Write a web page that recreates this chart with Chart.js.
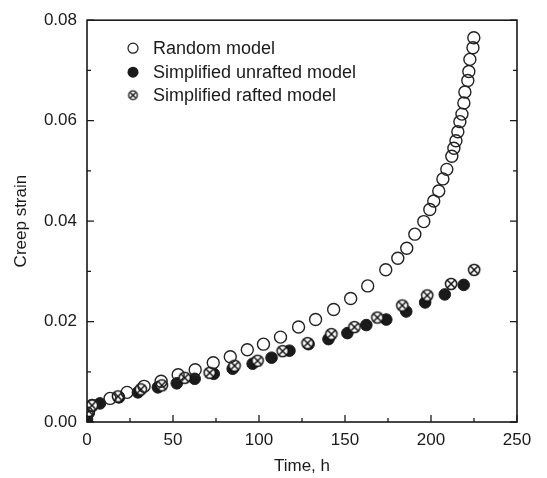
<!DOCTYPE html>
<html>
<head>
<meta charset="utf-8">
<script src="https://cdn.jsdelivr.net/npm/chart.js@4/dist/chart.umd.min.js"></script>
<style>
  html, body { margin: 0; padding: 0; background: #fff; }
</style>
</head>
<body>
<canvas id="chart" width="547" height="478"></canvas>
<script>
// values
const seriesNames = ['Random model', 'Simplified unrafted model', 'Simplified rafted model'];

const randomTime = [0, 3, 13.4, 23.3, 33.2, 43.1, 53, 62.9, 73.4, 83.3, 93.2, 102.6, 112.5, 123, 132.9, 143.4, 153.3, 163.2, 173.7, 180.7, 185.9, 190.6, 195.8, 199.3, 201.6, 204.5, 206.9, 209.2, 212.1, 213.3, 214.5, 215.6, 216.8, 218, 219.1, 219.7, 221.4, 222, 222.6, 224.4, 224.9];
const randomStrain = [0.0018, 0.0033, 0.0047, 0.0059, 0.0071, 0.0081, 0.0094, 0.0104, 0.0118, 0.0130, 0.0144, 0.0155, 0.0169, 0.0189, 0.0204, 0.0224, 0.0246, 0.0271, 0.0303, 0.0326, 0.0346, 0.0374, 0.0399, 0.0423, 0.0440, 0.0460, 0.0484, 0.0503, 0.0529, 0.0545, 0.0560, 0.0578, 0.0598, 0.0613, 0.0635, 0.0657, 0.0680, 0.0698, 0.0722, 0.0745, 0.0765];

const unraftedTime = [0, 1, 7.5, 18.6, 29.6, 41.2, 52.2, 62.6, 73.7, 84.7, 96.3, 107.3, 117.7, 128.8, 140.4, 151.4, 162.4, 174, 185.6, 196.6, 208, 219];
const unraftedStrain = [0.0005, 0.0018, 0.0037, 0.0049, 0.0059, 0.0069, 0.0077, 0.0086, 0.0096, 0.0106, 0.0116, 0.0128, 0.0142, 0.0155, 0.0165, 0.0177, 0.0193, 0.0204, 0.0220, 0.0238, 0.0254, 0.0273];

const raftedTime = [1, 2.9, 18, 31.3, 43.5, 56.8, 71.3, 85.8, 99.2, 113.7, 128.2, 142.1, 155.5, 168.8, 183.3, 197.8, 211.7, 225.1];
const raftedStrain = [0.0022, 0.0033, 0.0051, 0.0065, 0.0073, 0.0088, 0.0098, 0.0112, 0.0122, 0.0141, 0.0157, 0.0175, 0.0189, 0.0208, 0.0232, 0.0252, 0.0275, 0.0303];

const xTicks = [0, 50, 100, 150, 200, 250];
const xMinor = [25, 75, 125, 175, 225];
const yTicks = [0, 0.02, 0.04, 0.06, 0.08];
const yMinor = [0.01, 0.03, 0.05, 0.07];

const ink = '#1a1a1a';
const fontFam = '"Liberation Sans", Arial, Helvetica, sans-serif';

function pts(xs, ys) {
  return xs.map((x, i) => ({ x: x, y: ys[i] }));
}

// circle with an x inside, for the rafted model
function crossMark(r, lw) {
  const s = Math.ceil(r * 2 + 4);
  const c = document.createElement('canvas');
  c.width = s; c.height = s;
  const g = c.getContext('2d');
  const m = s / 2;
  g.fillStyle = '#fff';
  g.strokeStyle = '#111';
  g.lineWidth = lw;
  g.beginPath(); g.arc(m, m, r, 0, Math.PI * 2); g.fill(); g.stroke();
  const d = r * Math.SQRT1_2;
  g.beginPath();
  g.moveTo(m - d, m - d); g.lineTo(m + d, m + d);
  g.moveTo(m + d, m - d); g.lineTo(m - d, m + d);
  g.stroke();
  return c;
}
const crossBig = crossMark(5.6, 1.5);
const crossSmall = crossMark(4.3, 1.3);

// box round the plot plus inward ticks
const frame = {
  id: 'frame',
  afterDatasetsDraw(chart) {
    const { ctx, chartArea: a, scales: { x, y } } = chart;
    ctx.save();
    ctx.strokeStyle = ink;
    ctx.lineWidth = 1.3;
    ctx.beginPath();
    xTicks.forEach(v => { const p = x.getPixelForValue(v); ctx.moveTo(p, a.bottom); ctx.lineTo(p, a.bottom - 7); });
    xMinor.forEach(v => { const p = x.getPixelForValue(v); ctx.moveTo(p, a.bottom); ctx.lineTo(p, a.bottom - 4); });
    yTicks.forEach(v => {
      const p = y.getPixelForValue(v);
      ctx.moveTo(a.left, p); ctx.lineTo(a.left + 7, p);
      ctx.moveTo(a.right, p); ctx.lineTo(a.right - 7, p);
    });
    yMinor.forEach(v => {
      const p = y.getPixelForValue(v);
      ctx.moveTo(a.left, p); ctx.lineTo(a.left + 4, p);
      ctx.moveTo(a.right, p); ctx.lineTo(a.right - 4, p);
    });
    ctx.stroke();
    ctx.lineWidth = 1.6;
    ctx.strokeRect(a.left, a.top, a.right - a.left, a.bottom - a.top);
    ctx.restore();
  }
};

// legend sits inside the plot, top left
const insideLegend = {
  id: 'insideLegend',
  afterDraw(chart) {
    const { ctx, chartArea: a } = chart;
    const mx = a.left + 46, tx = a.left + 66;
    const rows = [a.top + 28, a.top + 52, a.top + 75];
    ctx.save();
    ctx.strokeStyle = ink;
    ctx.lineWidth = 1.2;
    ctx.beginPath(); ctx.arc(mx, rows[0], 5, 0, Math.PI * 2); ctx.stroke();
    ctx.fillStyle = ink;
    ctx.beginPath(); ctx.arc(mx, rows[1], 5.5, 0, Math.PI * 2); ctx.fill();
    ctx.drawImage(crossSmall, mx - crossSmall.width / 2, rows[2] - crossSmall.height / 2);
    ctx.font = '18px ' + fontFam;
    ctx.textBaseline = 'middle';
    ctx.textAlign = 'left';
    seriesNames.forEach((n, i) => ctx.fillText(n, tx, rows[i] + 1));
    ctx.restore();
  }
};

new Chart(document.getElementById('chart'), {
  type: 'scatter',
  data: {
    datasets: [
      {
        label: seriesNames[0],
        data: pts(randomTime, randomStrain),
        pointStyle: 'circle',
        pointRadius: 6,
        backgroundColor: 'rgba(0,0,0,0)',
        borderColor: '#222',
        borderWidth: 1.4,
        order: 0
      },
      {
        label: seriesNames[1],
        data: pts(unraftedTime, unraftedStrain),
        pointStyle: 'circle',
        pointRadius: 5.8,
        backgroundColor: ink,
        borderColor: ink,
        borderWidth: 1,
        order: 2
      },
      {
        label: seriesNames[2],
        data: pts(raftedTime, raftedStrain),
        pointStyle: crossBig,
        pointRadius: 6,
        order: 1
      }
    ]
  },
  options: {
    responsive: false,
    animation: false,
    devicePixelRatio: 1,
    layout: { padding: { top: 15, right: 30, left: 0, bottom: 0 } },
    plugins: {
      legend: { display: false },
      tooltip: { enabled: false }
    },
    scales: {
      x: {
        type: 'linear',
        min: 0,
        max: 250,
        afterBuildTicks: s => { s.ticks = xTicks.map(v => ({ value: v })); },
        afterFit: s => { s.height = 56; },
        grid: { display: false, drawTicks: false },
        border: { display: false },
        ticks: { color: ink, font: { family: fontFam, size: 17 }, padding: 8, maxRotation: 0 },
        title: { display: true, text: 'Time, h', color: ink, font: { family: fontFam, size: 17 }, padding: { top: 0, bottom: 1 } }
      },
      y: {
        type: 'linear',
        min: 0,
        max: 0.08,
        afterBuildTicks: s => { s.ticks = yTicks.map(v => ({ value: v })); },
        afterFit: s => { s.width = 87; },
        grid: { display: false, drawTicks: false },
        border: { display: false },
        ticks: { color: ink, font: { family: fontFam, size: 17 }, padding: 10, callback: v => v.toFixed(2) },
        title: { display: true, text: 'Creep strain', color: ink, font: { family: fontFam, size: 17 }, padding: { top: 11, bottom: 0 } }
      }
    }
  },
  plugins: [frame, insideLegend]
});
</script>
</body>
</html>
